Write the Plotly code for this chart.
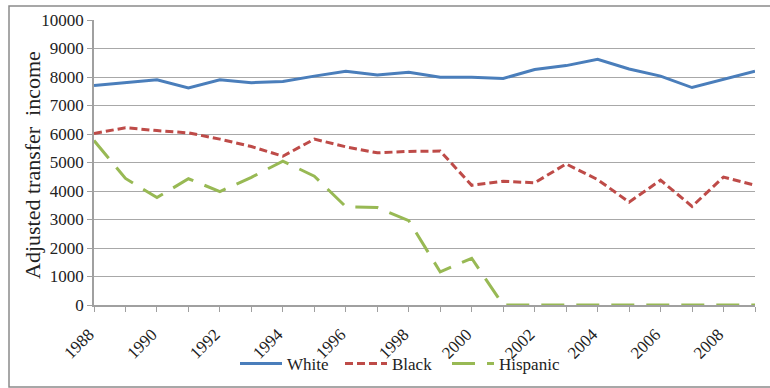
import plotly.graph_objects as go

# Adjusted transfer income by group, 1988-2009
years = list(range(1988, 2010))
white = [7700, 7800, 7900, 7620, 7900, 7800, 7840, 8030, 8200, 8070, 8170, 7990,
         7990, 7950, 8260, 8400, 8620, 8280, 8030, 7630, 7920, 8200]
black = [6020, 6220, 6120, 6040, 5820, 5560, 5220, 5820, 5550, 5340, 5390, 5400,
         4200, 4340, 4290, 4950, 4400, 3610, 4380, 3460, 4490, 4200]
hispanic = [5770, 4440, 3770, 4430, 3980, 4480, 5050, 4520, 3450, 3420, 2960, 1160,
            1640, 0, 0, 0, 0, 0, 0, 0, 0, 0]
tick_years = list(range(1988, 2010, 2))

W, H = 770, 388
FONT = "Liberation Serif"

fig = go.Figure()
fig.add_trace(go.Scatter(x=years, y=white, name="White", mode="lines",
                         legend="legend",
                         line=dict(color="#4a7ebb", width=3)))
fig.add_trace(go.Scatter(x=years, y=black, name="Black", mode="lines",
                         legend="legend2",
                         line=dict(color="#be4b48", width=3, dash="8px,4px")))
fig.add_trace(go.Scatter(x=years, y=hispanic, name="Hispanic", mode="lines",
                         legend="legend3",
                         line=dict(color="#98b954", width=3, dash="23px,12px")))

x0, x1 = 94, 755      # plot area, px
y_top, y_bot = 20, 305


def legend_at(left_px):
    return dict(orientation="h", x=left_px / W, xanchor="left", y=(H - 364) / H,
                yanchor="middle", font=dict(family=FONT, size=17, color="#222"),
                itemwidth=42, bgcolor="rgba(0,0,0,0)", borderwidth=0)


fig.update_layout(
    width=W, height=H,
    margin=dict(l=0, r=0, t=0, b=0),
    paper_bgcolor="white", plot_bgcolor="white",
    font=dict(family=FONT, size=17, color="#222"),
    showlegend=True,
    legend=legend_at(235),
    legend2=legend_at(340),
    legend3=legend_at(447),
    xaxis=dict(
        domain=[x0 / W, x1 / W], range=[1988, 2009],
        tickmode="array", tickvals=tick_years, ticktext=[str(t) for t in tick_years],
        tickangle=-45, ticks="outside", ticklen=5, tickcolor="#a0a0a0",
        ticklabelstandoff=6, ticklabelshift=-5,
        showline=True, linecolor="#a0a0a0", linewidth=1.5,
        showgrid=False, zeroline=False, automargin=False,
        tickfont=dict(size=17, family=FONT, color="#222"),
        minor=dict(dtick=1, tick0=1988, ticks="outside", ticklen=5,
                   tickcolor="#a0a0a0", showgrid=False),
    ),
    yaxis=dict(
        domain=[(H - y_bot) / H, (H - y_top) / H], range=[0, 10000],
        dtick=1000, tickformat="d", ticks="outside", ticklen=5, tickcolor="#a0a0a0",
        showline=True, linecolor="#a0a0a0", linewidth=1.5,
        showgrid=True, gridcolor="#a8a8a8", gridwidth=1,
        zeroline=False, automargin=False,
        tickfont=dict(size=17, family=FONT, color="#222"),
    ),
)

# axis title
fig.add_annotation(text="Adjusted transfer\u00a0\u00a0income", textangle=-90,
                   xref="paper", yref="paper", x=32 / W, y=(H - 165) / H,
                   xanchor="center", yanchor="middle",
                   showarrow=False, font=dict(size=22, family=FONT, color="#222"))

# chart frame
fig.add_shape(type="rect", xref="paper", yref="paper",
              x0=9 / W, x1=1.02, y0=1 - 387 / H, y1=1 - 6 / H,
              line=dict(color="#8a8a8a", width=1.5), layer="below")

fig.write_html("out.html")
